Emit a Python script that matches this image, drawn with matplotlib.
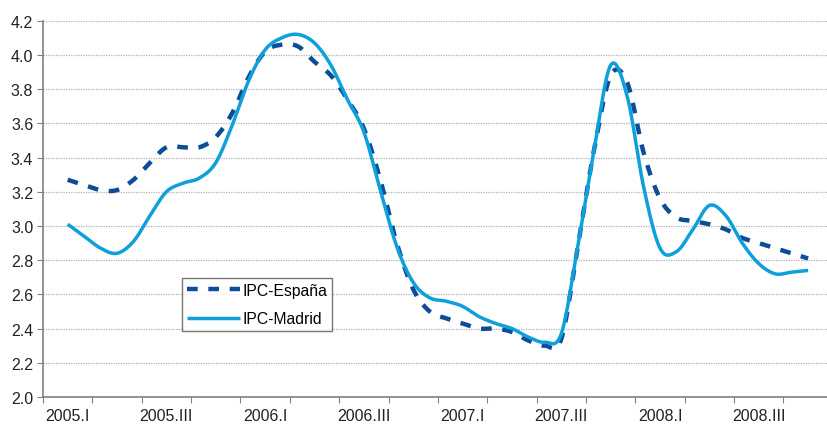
import numpy as np
import matplotlib
matplotlib.use("Agg")
import matplotlib.pyplot as plt

plt.rcParams['font.family'] = ['Liberation Sans', 'DejaVu Sans']

# monthly data, Feb 2005 .. Nov 2008 (month index 1..46 from Jan 2005)
months = np.arange(1, 47)
ipc_espana = [3.27, 3.24, 3.21, 3.21, 3.27, 3.37, 3.46, 3.46, 3.46, 3.52,
              3.66, 3.87, 4.02, 4.06, 4.05, 3.96, 3.88, 3.74, 3.57, 3.27,
              2.90, 2.63, 2.50, 2.46, 2.43, 2.40, 2.40, 2.38, 2.33, 2.30,
              2.34, 2.88, 3.45, 3.88, 3.84, 3.43, 3.16, 3.05, 3.03, 3.01,
              2.98, 2.93, 2.90, 2.87, 2.84, 2.81]
ipc_madrid = [3.01, 2.94, 2.87, 2.84, 2.91, 3.06, 3.20, 3.25, 3.28, 3.37,
              3.59, 3.85, 4.03, 4.10, 4.12, 4.07, 3.94, 3.74, 3.55, 3.21,
              2.88, 2.67, 2.58, 2.56, 2.53, 2.47, 2.43, 2.40, 2.35, 2.32,
              2.37, 2.88, 3.45, 3.94, 3.76, 3.23, 2.87, 2.85, 2.98, 3.12,
              3.06, 2.90, 2.78, 2.72, 2.73, 2.74]
tick_labels = ['2005.I', '2005.III', '2006.I', '2006.III',
               '2007.I', '2007.III', '2008.I', '2008.III']


def smooth(x, y, n=20):
    # catmull-rom, like excel's smoothed line
    x = np.asarray(x, float); y = np.asarray(y, float)
    px = np.concatenate([[2*x[0]-x[1]], x, [2*x[-1]-x[-2]]])
    py = np.concatenate([[2*y[0]-y[1]], y, [2*y[-1]-y[-2]]])
    xs, ys = [], []
    t = np.linspace(0, 1, n, endpoint=False)
    for i in range(1, len(px)-2):
        for p, out in ((px, xs), (py, ys)):
            p0, p1, p2, p3 = p[i-1], p[i], p[i+1], p[i+2]
            out.append(0.5*((2*p1) + (-p0+p2)*t + (2*p0-5*p1+4*p2-p3)*t**2
                            + (-p0+3*p1-3*p2+p3)*t**3))
    xs.append([x[-1]]); ys.append([y[-1]])
    return np.concatenate(xs), np.concatenate(ys)


fig = plt.figure(figsize=(8.27, 4.27), dpi=100)
ax = fig.add_axes([0.052, 0.068, 0.955, 0.881])

xm = months + 0.5
sx, sy = smooth(xm, ipc_espana)
ax.plot(sx, sy, color='#0b4d97', lw=3.2, dashes=(2.4, 2.4),
        label='IPC-España', zorder=3)
sx, sy = smooth(xm, ipc_madrid)
ax.plot(sx, sy, color='#0fa0dc', lw=2.5, label='IPC-Madrid', zorder=4,
        solid_capstyle='butt')

ax.set_xlim(0, 48)
ax.set_ylim(2.0, 4.2)
ax.set_yticks(np.arange(2.0, 4.21, 0.2))
ax.set_yticklabels(['%.1f' % v for v in np.arange(2.0, 4.21, 0.2)])
ax.set_xticks(np.arange(0, 49, 3))
ax.set_xticklabels([])
ax.set_xticks(np.arange(1.5, 48, 6), minor=True)
ax.set_xticklabels(tick_labels, minor=True)
ax.tick_params(axis='x', which='minor', length=0, pad=8, labelsize=11.5,
               colors='#222222')
ax.tick_params(axis='x', which='major', length=4, color='#808080',
               direction='out')
ax.tick_params(axis='y', length=4, color='#808080', labelsize=11.5,
               labelcolor='#222222', direction='out', pad=3)
for s in ['top', 'right']:
    ax.spines[s].set_visible(False)
ax.spines['left'].set_color('#808080')
ax.spines['bottom'].set_color('#808080')
ax.spines['left'].set_linewidth(1.2)
ax.spines['bottom'].set_linewidth(1.2)
ax.yaxis.grid(True, linestyle=(0, (1, 1)), color='#b0b0b0', lw=0.9)
ax.set_axisbelow(True)

leg = ax.legend(loc='upper left', bbox_to_anchor=(0.176, 0.316),
                borderaxespad=0, fontsize=11.3, frameon=True, fancybox=False,
                handlelength=3.4, handletextpad=0.15, borderpad=0.3,
                labelspacing=0.85)
leg.get_frame().set_edgecolor('#555555')
leg.get_frame().set_linewidth(1.0)

fig.savefig('out.png', dpi=100)
